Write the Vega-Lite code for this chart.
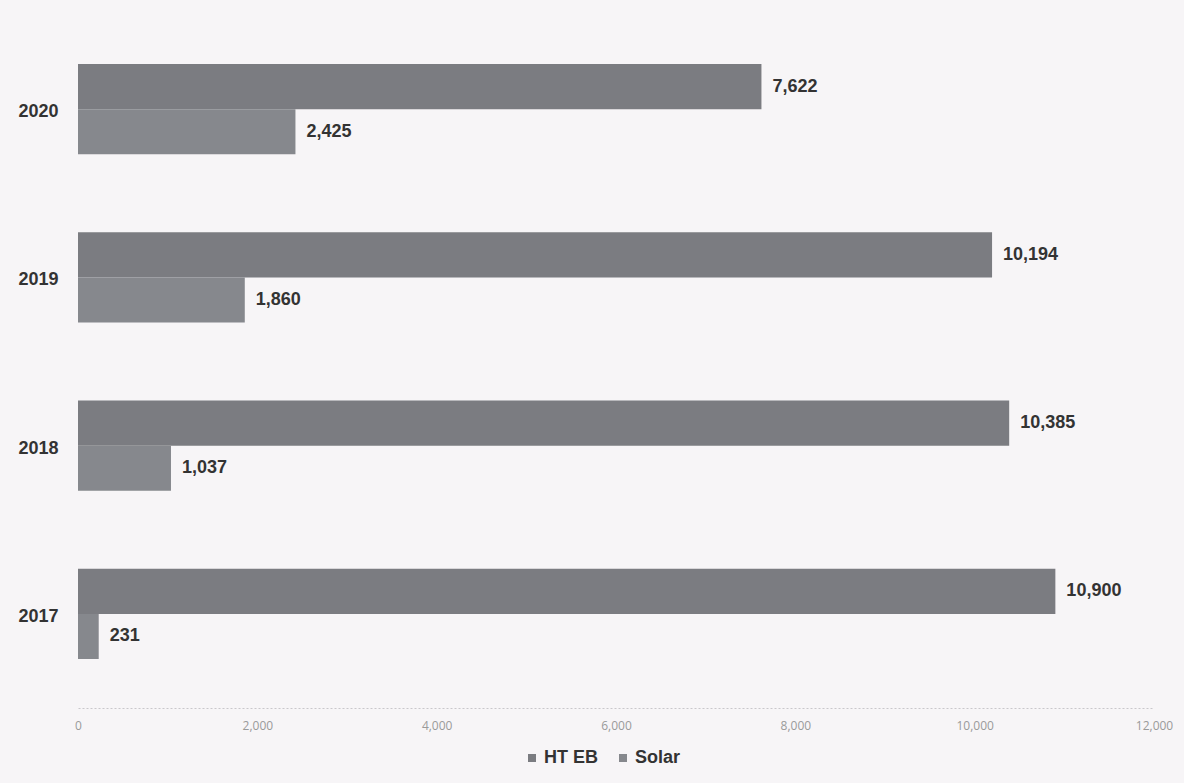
{
  "$schema": "https://vega.github.io/schema/vega-lite/v6.json",
  "width": 1076,
  "height": 673,
  "autosize": "none",
  "padding": {"left": 78, "top": 25, "right": 30, "bottom": 85},
  "background": "#f7f5f7",
  "config": {
    "view": {"stroke": null},
    "font": "Liberation Sans"
  },
  "data": {
    "values": [
      {"year": "2020", "series": "HT EB", "value": 7622},
      {"year": "2020", "series": "Solar", "value": 2425},
      {"year": "2019", "series": "HT EB", "value": 10194},
      {"year": "2019", "series": "Solar", "value": 1860},
      {"year": "2018", "series": "HT EB", "value": 10385},
      {"year": "2018", "series": "Solar", "value": 1037},
      {"year": "2017", "series": "HT EB", "value": 10900},
      {"year": "2017", "series": "Solar", "value": 231}
    ]
  },
  "encoding": {
    "y": {
      "field": "year",
      "type": "nominal",
      "sort": ["2020", "2019", "2018", "2017"],
      "scale": {"paddingInner": 0.465, "paddingOuter": 0.2325},
      "axis": {
        "title": null,
        "domain": false,
        "ticks": false,
        "labelPadding": 20,
        "labelFontSize": 18,
        "labelFontWeight": "bold",
        "labelColor": "#333333",
        "labelBaseline": "middle",
        "labelOffset": 3
      }
    },
    "yOffset": {
      "field": "series",
      "type": "nominal",
      "sort": ["HT EB", "Solar"],
      "scale": {"paddingInner": 0, "paddingOuter": 0}
    },
    "x": {
      "field": "value",
      "type": "quantitative",
      "scale": {"domain": [0, 12000], "nice": false},
      "axis": {
        "title": null,
        "values": [0, 2000, 4000, 6000, 8000, 10000, 12000],
        "format": ",.0f",
        "grid": false,
        "ticks": false,
        "offset": 10,
        "domainColor": "#c9c7cb",
        "domainDash": [2, 2],
        "labelPadding": 12,
        "labelFont": "Open Sans",
        "labelFontSize": 12,
        "labelColor": "#9a9a9a",
        "labelFlush": false
      }
    }
  },
  "layer": [
    {
      "mark": {"type": "bar"},
      "encoding": {
        "color": {
          "field": "series",
          "type": "nominal",
          "sort": ["HT EB", "Solar"],
          "scale": {"domain": ["HT EB", "Solar"], "range": ["#7b7c81", "#86888d"]},
          "legend": {
            "title": null,
            "orient": "none",
            "direction": "horizontal",
            "legendX": 445,
            "legendY": 724,
            "symbolType": "square",
            "symbolSize": 64,
            "symbolFillColor": "#6f7075",
            "labelFontSize": 18,
            "labelFontWeight": "bold",
            "labelColor": "#333333",
            "labelOffset": 3,
            "columnPadding": 16
          }
        }
      }
    },
    {
      "mark": {
        "type": "text",
        "align": "left",
        "baseline": "middle",
        "dx": 11,
        "fontSize": 18,
        "fontWeight": "bold",
        "color": "#333333"
      },
      "encoding": {
        "text": {"field": "value", "type": "quantitative", "format": ","}
      }
    }
  ]
}
